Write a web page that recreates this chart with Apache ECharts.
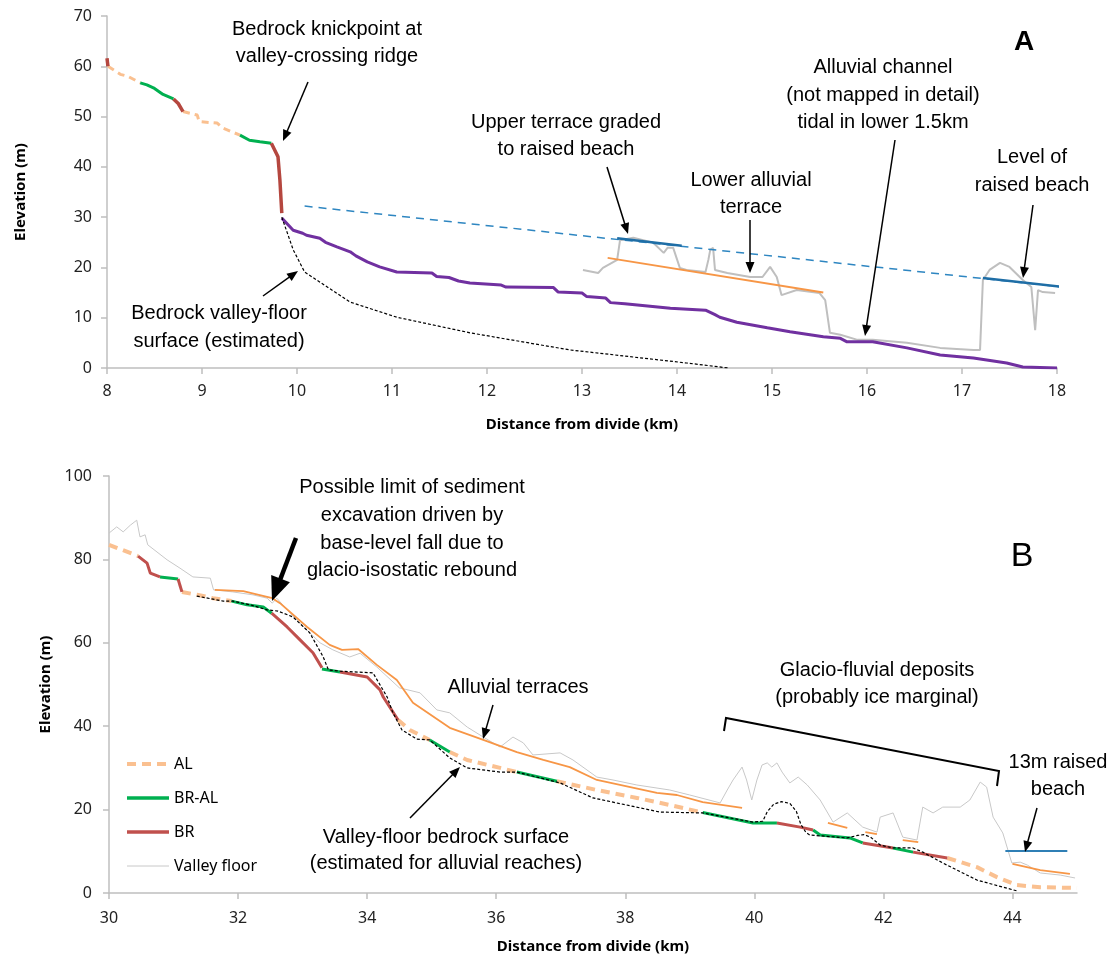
<!DOCTYPE html>
<html>
<head>
<meta charset="utf-8">
<script src="https://cdn.jsdelivr.net/npm/echarts@6/dist/echarts.min.js"></script>
<style>html,body{margin:0;background:#fff}#main{width:1120px;height:960px}</style>
</head>
<body>
<div id="main"></div>
<script>
// ---- panel A (km, m) ----
var aAL = [
  [[8.01, 60.0], [8.14, 58.4], [8.22, 58.0], [8.35, 56.7]],
  [[8.8, 51.0], [8.95, 50.3], [8.97, 49.0], [9.16, 48.7], [9.22, 47.7], [9.4, 46.3]]
];
var aBRAL = [
  [[8.35, 56.7], [8.42, 56.3], [8.5, 55.6], [8.59, 54.4], [8.7, 53.5]],
  [[9.4, 46.3], [9.5, 45.3], [9.61, 45.0], [9.73, 44.7]]
];
var aBR = [
  [[8.0, 61.6], [8.01, 60.0]],
  [[8.7, 53.5], [8.75, 52.6], [8.8, 51.0]],
  [[9.73, 44.7], [9.8, 42.0], [9.82, 37.4], [9.84, 30.8]]
];
var aChannel = [[9.84, 29.8], [9.96, 27.4], [10.06, 26.8], [10.1, 26.4], [10.24, 25.8], [10.3, 25.0],
  [10.38, 24.4], [10.42, 24.1], [10.56, 23.1], [10.62, 22.3], [10.74, 21.1], [10.87, 20.1], [11.05, 19.1],
  [11.42, 18.9], [11.47, 18.2], [11.6, 18.0], [11.7, 17.3], [11.82, 16.9], [12.15, 16.5], [12.2, 16.1],
  [12.7, 16.0], [12.75, 15.1], [13.0, 14.9], [13.05, 14.2], [13.25, 13.9], [13.3, 13.0], [13.45, 12.8],
  [13.61, 12.5], [13.93, 11.9], [14.3, 11.5], [14.4, 10.6], [14.45, 10.1], [14.63, 9.1], [14.95, 8.0],
  [15.19, 7.2], [15.54, 6.2], [15.72, 5.9], [15.79, 5.2], [16.06, 5.2], [16.42, 4.0], [16.77, 2.6],
  [17.12, 2.0], [17.47, 1.0], [17.64, 0.2], [18.0, 0.0]];
var aBedrock = [[9.84, 30.0], [9.96, 23.5], [10.08, 19.1], [10.56, 13.1], [11.05, 10.1], [11.82, 7.0],
  [12.87, 3.6], [14.1, 1.0], [14.54, 0]];
var aBeachLevel = [[10.08, 32.2], [18.26, 15.7]];
var aUpperTerrace = [[13.37, 25.8], [14.05, 24.3]];
var aRaisedBeach = [[17.22, 17.9], [18.03, 16.2]];
var aLowerTerrace = [[13.27, 21.9], [15.54, 15.0]];
var aFloor = [[13.01, 19.5], [13.17, 18.9], [13.22, 19.9], [13.37, 21.5], [13.4, 25.4], [13.54, 25.9],
  [13.75, 24.9], [13.86, 22.9], [13.9, 23.9], [13.96, 23.9], [14.03, 19.9], [14.1, 19.5], [14.3, 19.1],
  [14.33, 21.5], [14.35, 23.5], [14.38, 23.9], [14.4, 19.5], [14.53, 18.9], [14.77, 18.1], [14.9, 18.1],
  [14.98, 20.1], [15.05, 18.1], [15.1, 14.5], [15.26, 15.5], [15.5, 14.9], [15.56, 13.5], [15.61, 7.0],
  [15.72, 6.6], [15.9, 5.6], [16.06, 5.6], [16.42, 5.0], [16.77, 4.0], [17.12, 3.6], [17.19, 3.6],
  [17.22, 17.5], [17.29, 19.5], [17.4, 20.9], [17.5, 20.1], [17.64, 17.5], [17.73, 16.1], [17.77, 7.5],
  [17.8, 15.5], [17.85, 15.1], [17.98, 14.9]];

// ---- panel B (km, m) ----
var bAL = [
  [[30, 83.5], [30.2, 82.3], [30.45, 80.8]],
  [[31.13, 72.2], [31.4, 71.4], [31.61, 70.7], [31.9, 70.0]],
  [[34.48, 41.5], [34.66, 39.1], [34.97, 36.7]],
  [[35.28, 33.8], [35.55, 31.9], [36.06, 30.0], [36.32, 29.0]],
  [[36.94, 26.8], [37.56, 24.7], [38.18, 22.8], [38.69, 21.1], [39.2, 19.3]],
  [[42.99, 8.4], [43.45, 6.2], [43.76, 3.8], [44.07, 1.9], [44.43, 1.4], [45.0, 1.2]]
];
var bBRAL = [
  [[30.79, 75.8], [31.07, 75.3]],
  [[31.9, 70.0], [32.14, 69.1], [32.39, 68.6], [32.52, 67.1]],
  [[33.3, 53.7], [33.58, 53.0]],
  [[34.97, 36.7], [35.28, 33.8]],
  [[36.32, 29.0], [36.94, 26.8]],
  [[39.2, 19.3], [39.98, 16.8], [40.35, 16.8]],
  [[40.91, 15.1], [41.02, 13.9], [41.48, 13.2], [41.68, 12.0]],
  [[42.15, 10.8], [42.46, 9.8]]
];
var bBR = [
  [[30.45, 80.8], [30.59, 79.1], [30.64, 76.7], [30.79, 75.8]],
  [[31.07, 75.3], [31.13, 72.2]],
  [[32.52, 67.1], [32.76, 63.8], [32.96, 60.7], [33.16, 57.6], [33.3, 54.0]],
  [[33.58, 53.0], [34.0, 51.8], [34.2, 48.7], [34.25, 47.0], [34.48, 41.5]],
  [[40.35, 16.8], [40.71, 15.8], [40.91, 15.1]],
  [[41.68, 12.0], [42.15, 10.8]],
  [[42.46, 9.8], [42.99, 8.4]]
];
var bFloor = [[30, 86.3], [30.12, 87.8], [30.22, 86.6], [30.33, 88.2], [30.43, 89.4], [30.48, 85.4],
  [30.56, 85.9], [30.6, 83.5], [30.9, 79.9], [31.1, 77.9], [31.3, 75.8], [31.57, 75.5], [31.62, 72.7],
  [31.92, 72.2], [32.23, 71.5], [32.45, 70.7], [32.53, 69.5], [32.6, 70.7], [32.76, 67.9], [32.96, 64.7],
  [33.27, 60.0], [33.47, 58.3], [33.73, 56.6], [33.89, 57.5], [34.15, 54.2], [34.5, 49.2], [34.82, 48.0],
  [35.08, 43.9], [35.28, 43.2], [35.55, 39.8], [35.8, 37.4], [36.06, 35.0], [36.26, 37.4], [36.42, 36.0],
  [36.57, 33.1], [36.99, 33.6], [37.19, 31.9], [37.56, 27.8], [37.81, 27.1], [38.18, 25.9], [38.69, 24.7],
  [39.0, 23.5], [39.47, 21.6], [39.58, 24.7], [39.67, 27.1], [39.81, 30.2], [39.88, 27.1], [39.96, 22.3],
  [40.04, 27.1], [40.12, 30.7], [40.2, 31.2], [40.27, 30.2], [40.35, 31.2], [40.43, 29.0], [40.55, 26.4],
  [40.68, 27.8], [40.82, 25.9], [41.02, 22.3], [41.22, 17.0], [41.44, 19.2], [41.68, 15.8], [41.9, 14.6],
  [41.95, 18.2], [42.15, 19.2], [42.3, 13.4], [42.52, 12.7], [42.61, 20.6], [42.77, 19.2], [42.92, 20.6],
  [43.19, 20.6], [43.34, 22.3], [43.5, 26.6], [43.6, 25.4], [43.7, 18.2], [43.85, 14.4], [43.99, 7.2],
  [44.12, 7.4], [44.23, 6.7], [44.43, 4.8], [44.74, 4.3], [44.97, 3.6]];
var bTerraces = [
  [[31.64, 72.7], [32.08, 72.4], [32.53, 70.7], [32.65, 69.5], [33.07, 63.8], [33.42, 59.5], [33.61, 58.3],
   [33.86, 58.5], [34.15, 54.7], [34.46, 51.1], [34.71, 45.6], [35.28, 39.6], [35.8, 36.7], [36.32, 33.8],
   [36.73, 31.9], [37.14, 30.2], [37.56, 27.1], [38.49, 24.0], [38.8, 23.5], [39.2, 21.8], [39.81, 20.4]],
  [[41.14, 16.8], [41.44, 15.6]],
  [[41.72, 14.6], [41.9, 14.1]],
  [[42.3, 12.7], [42.54, 12.2]],
  [[44.0, 7.0], [44.43, 5.5], [44.89, 4.6]]
];
var bBeach13 = [[43.89, 10.1], [44.85, 10.1]];
var bBedrock = [[31.36, 71.2], [31.77, 70.0], [31.92, 70.0], [32.19, 69.1], [32.45, 67.9], [32.62, 67.6],
  [32.85, 66.2], [33.11, 62.4], [33.32, 56.6], [33.4, 53.5], [33.58, 53.2], [34.09, 52.8], [34.31, 47.0],
  [34.4, 43.2], [34.54, 39.1], [34.77, 36.9], [34.97, 36.7], [35.28, 32.4], [35.55, 30.0], [36.06, 29.0],
  [36.32, 29.0], [36.99, 26.4], [37.5, 22.8], [38.54, 19.4], [39.2, 19.2], [39.98, 17.0], [40.13, 17.2],
  [40.2, 19.5], [40.3, 21.3], [40.42, 21.9], [40.55, 21.5], [40.65, 19.6], [40.72, 16.5], [40.8, 14.5],
  [40.86, 13.9], [41.44, 13.2], [41.6, 13.8], [41.7, 14.0], [41.8, 13.4], [41.95, 11.5], [42.15, 10.8],
  [42.46, 10.8], [42.61, 9.8], [42.92, 7.2], [43.45, 3.1], [44.07, 0.5]];

var xTicksA = [8, 9, 10, 11, 12, 13, 14, 15, 16, 17, 18];
var xTicksB = [30, 32, 34, 36, 38, 40, 42, 44];

var chart = echarts.init(document.getElementById('main'));
var tickFont = 'Noto Sans, sans-serif';
var noteFont = 'Liberation Sans, Arial, sans-serif';

var series = [];
function add(data, g, style, name, z, extra) {
  var s = {
    type: 'line', name: name || '', data: data, xAxisIndex: g, yAxisIndex: g,
    symbol: 'none', silent: true, z: z || 2, lineStyle: style,
    itemStyle: { color: style.color }, animation: false
  };
  if (extra) for (var k in extra) s[k] = extra[k];
  series.push(s);
}

var sGrey = '#BFBFBF';
// panel A
add(aFloor, 0, { color: sGrey, width: 2 }, '', 1);
add(aLowerTerrace, 0, { color: '#F79646', width: 2 }, '', 2);
add(aBeachLevel, 0, { color: '#2E86C1', width: 1.5, type: [8, 6] }, '', 2, { clip: false });
add(aUpperTerrace, 0, { color: '#1F6EA6', width: 2.5 }, '', 3);
add(aRaisedBeach, 0, { color: '#1F6EA6', width: 2.5 }, '', 3);
add(aChannel, 0, { color: '#7030A0', width: 3 }, '', 3);
add(aBedrock, 0, { color: '#000', width: 1.2, type: [3, 2] }, '', 4);
aAL.forEach(function (d) { add(d, 0, { color: '#FAC090', width: 3, type: [7, 5] }, 'AL', 3); });
aBRAL.forEach(function (d) { add(d, 0, { color: '#00B050', width: 3 }, 'BR-AL', 3); });
aBR.forEach(function (d) { add(d, 0, { color: '#B5473F', width: 3.5 }, 'BR', 3); });

// panel B
add(bFloor, 1, { color: '#C8C8C8', width: 1 }, 'Valley floor', 1);
bTerraces.forEach(function (d) { add(d, 1, { color: '#F79646', width: 1.8 }, '', 2); });
add(bBeach13, 1, { color: '#2F7FB5', width: 2 }, '', 2);
bAL.forEach(function (d) { add(d, 1, { color: '#FAC090', width: 4, type: [9, 6] }, 'AL', 3); });
bBRAL.forEach(function (d) { add(d, 1, { color: '#00B050', width: 3 }, 'BR-AL', 3); });
bBR.forEach(function (d) { add(d, 1, { color: '#C0504D', width: 3 }, 'BR', 3); });
add(bBedrock, 1, { color: '#000', width: 1.2, type: [3, 2] }, '', 4);

// annotations
var graphics = [];
function note(x, y, text, lh, opt) {
  opt = opt || {};
  graphics.push({
    type: 'text', x: x, y: y, silent: true, z: 10,
    style: {
      text: text, fill: '#000', font: (opt.weight || 'normal') + ' ' + (opt.size || 20) + 'px ' + noteFont,
      textAlign: 'center', textVerticalAlign: opt.va || 'top', lineHeight: lh
    }
  });
}
function arrow(x1, y1, x2, y2, w, len, half) {
  var dx = x2 - x1, dy = y2 - y1, d = Math.sqrt(dx * dx + dy * dy);
  var ux = dx / d, uy = dy / d;
  var bx = x2 - ux * len, by = y2 - uy * len;
  graphics.push({ type: 'line', silent: true, z: 10,
    shape: { x1: x1, y1: y1, x2: bx + ux * 2, y2: by + uy * 2 },
    style: { stroke: '#000', lineWidth: w } });
  graphics.push({ type: 'polygon', silent: true, z: 10,
    shape: { points: [[x2, y2], [bx - uy * half, by + ux * half], [bx + uy * half, by - ux * half]] },
    style: { fill: '#000' } });
}

note(327, 15.5, 'Bedrock knickpoint at\nvalley-crossing ridge', 27);
arrow(308, 82, 283, 141, 1.5, 11, 4.5);
note(219, 299, 'Bedrock valley-floor\nsurface (estimated)', 28);
arrow(263, 296, 298, 271, 1.5, 11, 4.5);
note(566, 108.5, 'Upper terrace graded\nto raised beach', 27);
arrow(607, 167, 628, 234, 1.5, 11, 4.5);
note(751, 166.5, 'Lower alluvial\nterrace', 27);
arrow(750, 220, 750, 273, 1.5, 11, 4.5);
note(883, 54, 'Alluvial channel\n(not mapped in detail)\ntidal in lower 1.5km', 27.5);
arrow(895, 140, 865, 336, 1.5, 11, 4.5);
note(1032, 143, 'Level of\nraised beach', 28);
arrow(1033, 205, 1023, 278, 1.5, 11, 4.5);
note(1024, 42, 'A', 30, { size: 28, weight: 'bold', va: 'middle' });

note(412, 474, 'Possible limit of sediment\nexcavation driven by\nbase-level fall due to\nglacio-isostatic rebound', 27.7);
arrow(296, 538, 272, 601, 4.5, 24, 10);
note(518, 673, 'Alluvial terraces', 28);
arrow(493, 705, 483, 739, 1.5, 11, 4.5);
note(446, 824, 'Valley-floor bedrock surface\n(estimated for alluvial reaches)', 26.5);
arrow(410, 818, 460, 767, 1.5, 11, 4.5);
note(877, 656.5, 'Glacio-fluvial deposits\n(probably ice marginal)', 27);
note(1058, 748.5, '13m raised\nbeach', 27);
arrow(1037, 808, 1025, 852, 1.5, 11, 4.5);
note(1022, 557, 'B', 36, { size: 34, va: 'middle' });
graphics.push({ type: 'polyline', silent: true, z: 10,
  shape: { points: [[724, 731], [726, 718], [999, 771], [997, 786]] },
  style: { stroke: '#000', lineWidth: 2, fill: null } });

function xAx(g, min, max, ticks) {
  return {
    type: 'value', gridIndex: g, min: min, max: max, interval: g === 0 ? 1 : 2,
    name: 'Distance from divide (km)', nameLocation: 'middle', nameGap: g === 0 ? 49 : 46,
    nameTextStyle: { fontFamily: tickFont, fontWeight: 'bold', fontSize: 15, color: '#000' },
    axisLine: { lineStyle: { color: '#BFBFBF', width: 1.5 } },
    axisTick: { length: 6, lineStyle: { color: '#BFBFBF', width: 1.5 }, customValues: ticks },
    axisLabel: { color: '#222', fontFamily: tickFont, fontSize: 16, margin: g === 0 ? 15 : 17, customValues: ticks },
    splitLine: { show: false }
  };
}
function yAx(g, max, step, gap, margin) {
  return {
    type: 'value', gridIndex: g, min: 0, max: max, interval: step,
    name: 'Elevation (m)', nameLocation: 'middle', nameGap: gap,
    nameTextStyle: { fontFamily: tickFont, fontWeight: 'bold', fontSize: 15, color: '#000' },
    axisLine: { show: true, lineStyle: { color: '#BFBFBF', width: 1.5 } },
    axisTick: { show: true, length: 6, lineStyle: { color: '#BFBFBF', width: 1.5 } },
    axisLabel: { color: '#222', fontFamily: tickFont, fontSize: 16, margin: margin },
    splitLine: { show: false }
  };
}

chart.setOption({
  animation: false,
  grid: [
    { left: 107, width: 950, top: 16, height: 352 },
    { left: 109, width: 968, top: 476, height: 417 }
  ],
  xAxis: [xAx(0, 8, 18, xTicksA), xAx(1, 30, 45, xTicksB)],
  yAxis: [yAx(0, 70, 10, 79, 15), yAx(1, 100, 20, 54, 17)],
  legend: {
    data: [
      { name: 'AL', lineStyle: { width: 4, type: [9, 6], color: '#FAC090' } },
      { name: 'BR-AL', lineStyle: { width: 3.5, color: '#00B050' } },
      { name: 'BR', lineStyle: { width: 3.5, color: '#C0504D' } },
      { name: 'Valley floor', lineStyle: { width: 1, color: '#C8C8C8' } }
    ],
    orient: 'vertical', left: 125, top: 756,
    padding: 0, itemWidth: 42, itemHeight: 14, itemGap: 18, selectedMode: false,
    itemStyle: { color: 'transparent', borderColor: 'transparent', borderWidth: 0 },
    textStyle: { fontFamily: tickFont, fontSize: 16, color: '#000' }
  },
  series: series,
  graphic: graphics
});
</script>
</body>
</html>
